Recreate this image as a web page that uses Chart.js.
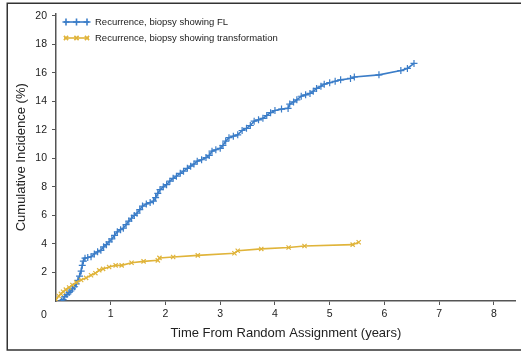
<!DOCTYPE html>
<html>
<head>
<meta charset="utf-8">
<script src="https://cdn.jsdelivr.net/npm/chart.js@4/dist/chart.umd.min.js"></script>
<style>
  html, body { margin: 0; padding: 0; background: #fff; }
  #wrap { width: 521px; height: 351px; position: relative; }
</style>
</head>
<body>
<div id="wrap"><canvas id="c" width="521" height="351"></canvas></div>
<script>
// Cumulative incidence of recurrence by biopsy finding
const seriesLabels = ['Recurrence, biopsy showing FL', 'Recurrence, biopsy showing transformation'];

const flYears = [0.10, 0.13, 0.16, 0.20, 0.24, 0.27, 0.30, 0.34, 0.37, 0.40, 0.43, 0.46, 0.48, 0.50, 0.53,
  0.58, 0.64, 0.70, 0.76, 0.82, 0.87, 0.92, 0.97, 1.02, 1.07, 1.12, 1.18, 1.23, 1.28, 1.33, 1.38, 1.43,
  1.48, 1.53, 1.58, 1.65, 1.72, 1.78, 1.82, 1.86, 1.90, 1.96, 2.02, 2.08, 2.14, 2.20, 2.27, 2.33, 2.40,
  2.46, 2.52, 2.58, 2.66, 2.74, 2.80, 2.85, 2.92, 3.00, 3.05, 3.10, 3.16, 3.24, 3.32, 3.40, 3.48, 3.55,
  3.62, 3.70, 3.78, 3.85, 3.92, 4.00, 4.12, 4.24, 4.27, 4.34, 4.40, 4.48, 4.56, 4.64, 4.70, 4.76, 4.84,
  4.90, 5.00, 5.10, 5.20, 5.38, 5.45, 5.90, 6.30, 6.42, 6.54];
const flIncidence = [0.0, 0.1, 0.3, 0.45, 0.6, 0.7, 0.85, 1.0, 1.2, 1.45, 1.75, 2.1, 2.5, 2.8, 3.0,
  3.05, 3.1, 3.3, 3.45, 3.55, 3.8, 3.95, 4.15, 4.35, 4.6, 4.85, 5.0, 5.1, 5.35, 5.6, 5.8, 6.0,
  6.15, 6.4, 6.65, 6.8, 6.9, 7.0, 7.25, 7.55, 7.8, 8.0, 8.15, 8.4, 8.6, 8.75, 8.95, 9.1, 9.3,
  9.45, 9.6, 9.8, 9.9, 10.05, 10.2, 10.5, 10.6, 10.7, 10.9, 11.2, 11.45, 11.55, 11.65, 11.95, 12.1, 12.3,
  12.6, 12.7, 12.8, 13.0, 13.2, 13.35, 13.45, 13.5, 13.8, 13.95, 14.1, 14.35, 14.45, 14.55, 14.7, 14.9, 15.05,
  15.2, 15.3, 15.4, 15.5, 15.6, 15.7, 15.85, 16.15, 16.3, 16.65];

const trYears = [0.00, 0.05, 0.09, 0.13, 0.18, 0.24, 0.30, 0.37, 0.46, 0.55, 0.64, 0.72, 0.79, 0.86,
  0.97, 1.09, 1.20, 1.38, 1.60, 1.86, 1.89, 2.14, 2.59, 3.26, 3.32, 3.75, 4.25, 4.54, 5.42, 5.53];
const trIncidence = [0.1, 0.35, 0.5, 0.65, 0.8, 0.95, 1.12, 1.3, 1.47, 1.62, 1.8, 1.95, 2.15, 2.25,
  2.38, 2.5, 2.5, 2.68, 2.78, 2.85, 3.02, 3.08, 3.2, 3.35, 3.52, 3.65, 3.75, 3.85, 3.95, 4.12];

const xTickValues = [1, 2, 3, 4, 5, 6, 7, 8];
const yTickValues = [2, 4, 6, 8, 10, 12, 14, 16, 18, 20];
const originLabel = '0';
const xTitle = 'Time From Random Assignment (years)';
const yTitle = 'Cumulative Incidence (%)';

const BLUE = '#3b7dc8';
const GOLD = '#e0b43a';
const AXIS = '#555';
const INK = '#222';
const TITLE_FONT = { family: '"Liberation Sans", Arial, sans-serif', size: 13 };
const TICK_FONT = { family: '"Liberation Sans", Arial, sans-serif', size: 10.5 };

const toPoints = (xs, ys) => xs.map((x, i) => ({ x: x, y: ys[i] }));

// Outer frame around the figure
const framePlugin = {
  id: 'frame',
  beforeDraw(chart) {
    const ctx = chart.ctx;
    ctx.save();
    ctx.strokeStyle = '#333';
    ctx.lineWidth = 1.5;
    ctx.beginPath();
    ctx.moveTo(530, 3.25);
    ctx.lineTo(7.25, 3.25);
    ctx.lineTo(7.25, 350);
    ctx.lineTo(530, 350);
    ctx.stroke();
    ctx.restore();
  }
};

// Shared origin label below the corner of the axes
const originPlugin = {
  id: 'origin',
  afterDraw(chart) {
    const ctx = chart.ctx;
    const xs = chart.scales.x;
    ctx.save();
    ctx.fillStyle = INK;
    ctx.font = TICK_FONT.size + 'px ' + TICK_FONT.family;
    ctx.textAlign = 'center';
    ctx.textBaseline = 'middle';
    ctx.fillText(originLabel, xs.left - 12, 315);
    ctx.restore();
  }
};

// Legend: short line with three markers, followed by the series name
const lineLegendPlugin = {
  id: 'lineLegend',
  afterDraw(chart) {
    const ctx = chart.ctx;
    ctx.save();
    chart.data.datasets.forEach((ds, i) => {
      const y = 22 + i * 16;
      ctx.strokeStyle = ds.borderColor;
      ctx.lineWidth = ds.borderWidth;
      ctx.beginPath();
      ctx.moveTo(64, y);
      ctx.lineTo(89, y);
      ctx.stroke();
      [66, 76.5, 87].forEach(px => {
        ctx.strokeStyle = ds.pointBorderColor;
        Chart.helpers.drawPoint(ctx, {
          pointStyle: ds.pointStyle,
          radius: ds.pointRadius,
          borderWidth: ds.pointBorderWidth,
          rotation: 0
        }, px, y);
      });
      ctx.fillStyle = INK;
      ctx.font = '9.5px "Liberation Sans", Arial, sans-serif';
      ctx.textAlign = 'left';
      ctx.textBaseline = 'middle';
      ctx.fillText(ds.label, 95, y + 0.5);
    });
    ctx.restore();
  }
};

new Chart(document.getElementById('c'), {
  type: 'scatter',
  data: {
    datasets: [
      {
        label: seriesLabels[0],
        data: toPoints(flYears, flIncidence),
        showLine: true,
        borderColor: BLUE,
        borderWidth: 1.6,
        pointStyle: 'cross',
        pointRadius: 3.5,
        pointBorderWidth: 1.2,
        pointBorderColor: BLUE,
        pointBackgroundColor: BLUE,
        order: 1
      },
      {
        label: seriesLabels[1],
        data: toPoints(trYears, trIncidence),
        showLine: true,
        borderColor: GOLD,
        borderWidth: 1.6,
        pointStyle: 'crossRot',
        pointRadius: 3,
        pointBorderWidth: 1.2,
        pointBorderColor: GOLD,
        pointBackgroundColor: GOLD,
        order: 0
      }
    ]
  },
  options: {
    responsive: false,
    animation: false,
    layout: { padding: { left: 0, right: 4, top: 13.5, bottom: 0 } },
    plugins: {
      legend: { display: false },
      tooltip: { enabled: false }
    },
    scales: {
      x: {
        type: 'linear',
        min: 0,
        max: 8.4,
        afterBuildTicks: s => { s.ticks = xTickValues.map(v => ({ value: v })); },
        afterFit: s => { s.height = 50; },
        grid: { drawOnChartArea: false, drawTicks: true, tickLength: 4, color: AXIS, tickWidth: 1 },
        border: { display: true, color: AXIS, width: 1.5 },
        ticks: { color: INK, font: TICK_FONT, padding: 3, maxRotation: 0, autoSkip: false },
        title: { display: true, text: xTitle, color: INK, font: TITLE_FONT, padding: { top: 0, bottom: 10 } }
      },
      y: {
        type: 'linear',
        min: 0,
        max: 20.15,
        afterBuildTicks: s => { s.ticks = yTickValues.map(v => ({ value: v })); },
        afterFit: s => { s.width = 56; },
        grid: { drawOnChartArea: false, drawTicks: true, tickLength: 4, color: AXIS, tickWidth: 1 },
        border: { display: true, color: AXIS, width: 1.5 },
        ticks: { color: INK, font: TICK_FONT, padding: 5, autoSkip: false },
        title: { display: true, text: yTitle, color: INK, font: TITLE_FONT, padding: { top: 14, bottom: 0 } }
      }
    }
  },
  plugins: [framePlugin, originPlugin, lineLegendPlugin]
});
</script>
</body>
</html>
